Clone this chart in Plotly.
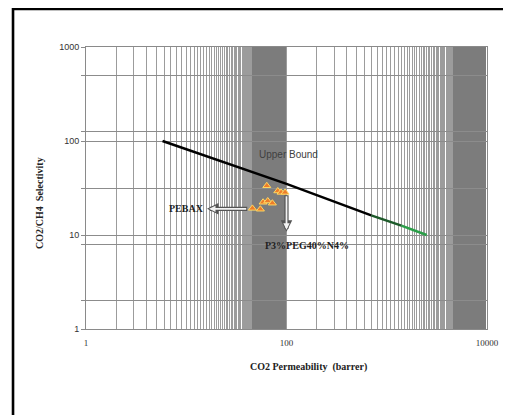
import plotly.graph_objects as go
import math

# ---- data ----
pebax_x = [45.7, 54.9, 58.4, 65.0, 72.3, 63.6, 81.9, 88.3, 96.8]
pebax_y = [19.2, 18.8, 22.3, 23.0, 21.8, 33.4, 29.4, 28.4, 28.4]

ub_x = [5.8, 100, 700, 1400, 2500]
ub_y = [100, 35, 16.2, 12.6, 10]

x_tick_labels = {1: "1", 100: "100", 10000: "10000"}
y_grid_vals = [1, 2, 7.83, 10, 31.6, 100, 127, 500, 1000]
y_tick_labels = {1: "1", 10: "10", 100: "100", 1000: "1000"}

# x axis grid (log base 100 style: every integer multiple of the major unit)
x_sparse = ([k for k in range(1, 46)] + [100] +
            [100 * k for k in range(2, 46)] + [10000])
x_dense = [k for k in range(46, 100)] + [100 * k for k in range(46, 100)]
x_sparse_text = [x_tick_labels.get(v, "") for v in x_sparse]
y_grid_text = [y_tick_labels.get(v, "") for v in y_grid_vals]

fig = go.Figure()

# upper bound line: black part then fading to green
fig.add_trace(go.Scatter(x=ub_x[0:3], y=ub_y[0:3], mode="lines",
                         line=dict(color="black", width=2.5), showlegend=False))
fig.add_trace(go.Scatter(x=ub_x[2:4], y=ub_y[2:4], mode="lines",
                         line=dict(color="#1d5a2a", width=2.5), showlegend=False))
fig.add_trace(go.Scatter(x=ub_x[3:5], y=ub_y[3:5], mode="lines",
                         line=dict(color="#2a9e48", width=2.5), showlegend=False))

fig.add_trace(go.Scatter(x=pebax_x, y=pebax_y, mode="markers",
                         marker=dict(symbol="triangle-up", size=7, color="#ee7d2a",
                                     line=dict(color="#ffd862", width=1)),
                         showlegend=False))

L = math.log10

annotations = []
# hollow arrows: dark outline arrow + light inner arrow
def hollow_arrow(x_head, y_head, x_tail, y_tail):
    annotations.append(dict(x=L(x_head), y=L(y_head), ax=L(x_tail), ay=L(y_tail),
                            xref="x", yref="y", axref="x", ayref="y",
                            showarrow=True, arrowhead=2, arrowsize=0.55,
                            arrowwidth=4.2, arrowcolor="#555555", text=""))
    annotations.append(dict(x=L(x_head), y=L(y_head), ax=L(x_tail), ay=L(y_tail),
                            xref="x", yref="y", axref="x", ayref="y",
                            showarrow=True, arrowhead=2, arrowsize=0.7,
                            arrowwidth=1.8, arrowcolor="#f2f2f2", text="",
                            standoff=2.2, startstandoff=1))

hollow_arrow(16.1, 19.0, 42.0, 19.0)
hollow_arrow(100, 10.8, 100, 27.5)

annotations.append(dict(x=L(10.1), y=L(19.0), xref="x", yref="y", text="<b>PEBAX</b>",
                        showarrow=False,
                        font=dict(family="Liberation Serif", size=10, color="#222"),
                        xanchor="center", yanchor="middle"))
annotations.append(dict(x=L(159.6), y=L(7.66), xref="x", yref="y", text="<b>P3%PEG40%N4%</b>",
                        showarrow=False,
                        font=dict(family="Liberation Serif", size=10, color="#222"),
                        xanchor="center", yanchor="middle"))
annotations.append(dict(x=L(104.5), y=L(72.6), xref="x", yref="y", text="Upper Bound",
                        showarrow=False,
                        font=dict(family="Liberation Sans", size=10, color="#404040"),
                        xanchor="center", yanchor="middle"))
# axis titles
annotations.append(dict(x=0.554, y=-0.136, xref="paper", yref="paper",
                        text="<b>CO2 Permeability  (barrer)</b>", showarrow=False,
                        font=dict(family="Liberation Serif", size=10, color="#222"),
                        xanchor="center", yanchor="middle"))
annotations.append(dict(x=-0.1165, y=0.448, xref="paper", yref="paper",
                        text="<b>CO2/CH4  Selectivity</b>", showarrow=False, textangle=-90,
                        font=dict(family="Liberation Serif", size=10, color="#222"),
                        xanchor="center", yanchor="middle"))

fig.update_layout(
    width=503, height=407,
    margin=dict(l=78, r=24, t=39, b=86),
    paper_bgcolor="white", plot_bgcolor="white",
    annotations=annotations,
    shapes=[dict(type="path", xref="paper", yref="paper",
                 path="M -0.182,-0.35 L -0.182,1.1348 L 1.2,1.1348",
                 line=dict(color="black", width=2.6))],
)

fig.update_xaxes(type="log", range=[0, 4], tickmode="array",
                 tickvals=x_sparse, ticktext=x_sparse_text,
                 showgrid=True, gridcolor="#9c9c9c", gridwidth=1,
                 minor=dict(tickmode="array", tickvals=x_dense, showgrid=True,
                            gridcolor="#7c7c7c", gridwidth=1, ticks=""),
                 ticks="", showline=True, linecolor="#8a8a8a", mirror=True,
                 ticklabelstandoff=5,
                 tickfont=dict(family="Liberation Serif", size=9, color="#333"),
                 zeroline=False)
fig.update_yaxes(type="log", range=[0, 3], tickmode="array",
                 tickvals=y_grid_vals, ticktext=y_grid_text,
                 showgrid=True, gridcolor="#8c8c8c", gridwidth=1,
                 ticks="outside", ticklen=4, tickcolor="#8a8a8a",
                 showline=True, linecolor="#8a8a8a", mirror=True,
                 tickfont=dict(family="Liberation Sans", size=9, color="#333"),
                 zeroline=False)

fig.write_html("out.html")
